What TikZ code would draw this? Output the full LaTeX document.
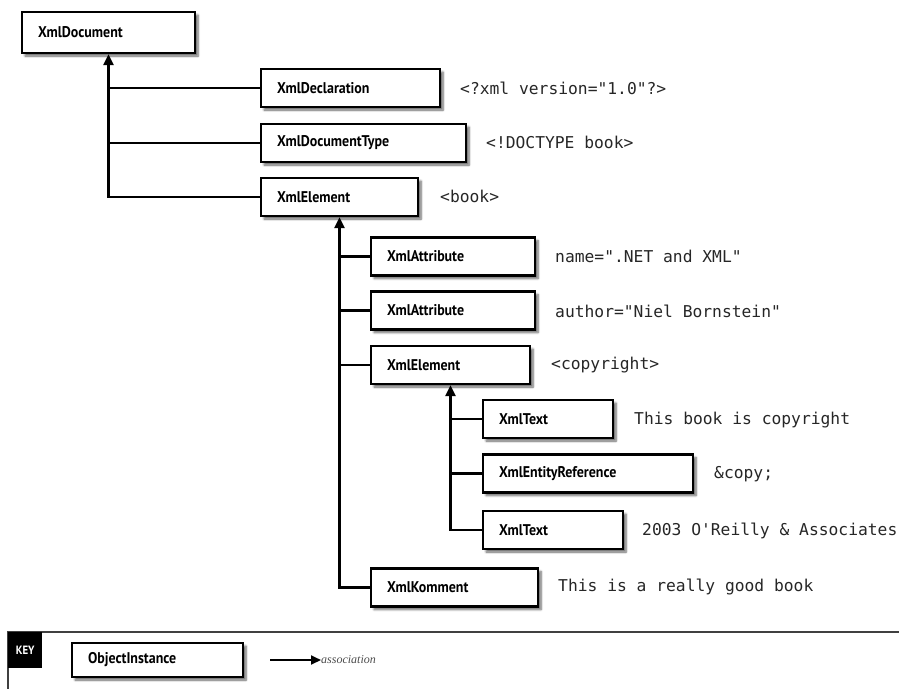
\documentclass[tikz,border=0pt]{standalone}
\usepackage{fontspec}
\setmainfont{DejaVu Sans}
\newfontfamily\boxfont[FakeStretch=0.9]{PT Sans}
\newfontfamily\codefont{DejaVu Sans Mono}
\newfontfamily\notefont{Liberation Serif}
\usetikzlibrary{arrows.meta,shadows.blur}
\begin{document}
\begin{tikzpicture}[x=1pt,y=-1pt,
  obj/.style={draw=black, line width=2.2pt, fill=white,
    font=\boxfont\bfseries\fontsize{15.5}{17}\selectfont,
    inner xsep=16pt, inner ysep=0pt, minimum height=38pt, align=left,
    blur shadow={shadow xshift=3pt, shadow yshift=-3pt, shadow blur steps=6, shadow opacity=60}},
  link/.style={line width=2.2pt, draw=black},
  assoc/.style={link, -{Triangle[length=11pt,width=10pt]}},
  lit/.style={font=\codefont\fontsize{16.3}{18}\selectfont, anchor=west, inner sep=0pt, text=black!85}]
\useasboundingbox (0,0) rectangle (899,689);

% document level
\node[obj, text width=141pt, minimum height=41pt] (doc) at (108.5,32.5) {XmlDocument};
\node[obj, text width=147pt] (decl)  at (350.5,88)  {XmlDeclaration};
\node[obj, text width=173pt] (dtype) at (363.5,143) {XmlDocumentType};
\node[obj, text width=125pt] (el)    at (339.5,197) {XmlElement};

% book element
\node[obj, text width=132pt] (att1) at (453,256.5) {XmlAttribute};
\node[obj, text width=132pt] (att2) at (453,310.5) {XmlAttribute};
\node[obj, text width=127pt] (el2)  at (450.5,365) {XmlElement};
\node[obj, text width=135pt] (kom)  at (454.5,587.5) {XmlKomment};

% copyright element
\node[obj, text width=98pt]  (txt1) at (548,419)   {XmlText};
\node[obj, text width=178pt] (ent)  at (588,473.5) {XmlEntityReference};
\node[obj, text width=108pt] (txt2) at (553,530)   {XmlText};

% connectors
\draw[assoc] (el.west) -| (doc.south);
\draw[link] (decl.west) -- (decl.west -| doc.south);
\draw[link] (dtype.west) -- (dtype.west -| doc.south);

\draw[assoc] (kom.west) -| (el.south);
\draw[link] (att1.west) -- (att1.west -| el.south);
\draw[link] (att2.west) -- (att2.west -| el.south);
\draw[link] (el2.west) -- (el2.west -| el.south);

\draw[assoc] (txt2.west) -| (el2.south);
\draw[link] (txt1.west) -- (txt1.west -| el2.south);
\draw[link] (ent.west) -- (ent.west -| el2.south);

% XML source fragments
\node[lit] (vdecl)  at (460,88)  {<?xml version="1.0"?>};
\node[lit] (vdtype) at (486,142) {<!DOCTYPE book>};
\node[lit] (vel)    at (440,196) {<book>};
\node[lit] (vatt1)  at (555,256) {name=".NET and XML"};
\node[lit] (vatt2)  at (555,311) {author="Niel Bornstein"};
\node[lit] (vel2)   at (551,365) {<copyright>};
\node[lit] (vtxt1)  at (634,420) {This book is copyright};
\node[lit] (vent)   at (714,474) {\&copy;};
\node[lit] (vtxt2)  at (642,531) {2003 O'Reilly \& Associates};
\node[lit] (vkom)   at (558,587) {This is a really good book};

% key
\coordinate (keyR) at (899,632);
\coordinate (keyL) at (8,632);
\coordinate (keyB) at (8,689);
\draw[line width=1.5pt, black!75] (keyR) -- (keyL) -- (keyB);
\node[fill=black, text=white, anchor=north west, minimum width=34pt, minimum height=36pt,
  inner sep=0pt, font=\boxfont\bfseries\fontsize{12}{13}\selectfont] (keytag) at (keyL) {KEY};
\node[obj, text width=139pt, minimum height=34pt] (inst) at (157.5,660) {ObjectInstance};
\coordinate (assocstart) at (270,660);
\node[anchor=west, inner sep=0pt, text=black!70, font=\notefont\itshape\fontsize{12}{14}\selectfont]
  (assoclbl) at (321,660) {association};
\draw[line width=1.8pt, -{Triangle[length=10pt,width=9pt]}] (assocstart) -- (assoclbl.west);
\end{tikzpicture}
\end{document}
